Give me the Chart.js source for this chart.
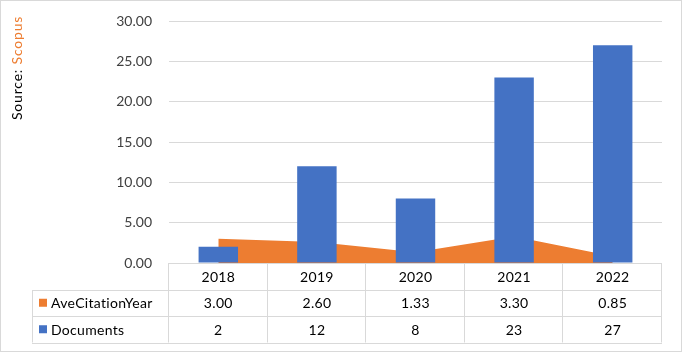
<!DOCTYPE html>
<html>
<head>
<meta charset="utf-8">
<script src="https://cdn.jsdelivr.net/npm/chart.js@4"></script>
<style>
  html, body { margin: 0; padding: 0; background: #fff; }
  #c { display: block; }
</style>
</head>
<body>
<canvas id="c" width="683" height="354"></canvas>
<script>
const years = ['2018', '2019', '2020', '2021', '2022'];
const aveCitationYear = [3.00, 2.60, 1.33, 3.30, 0.85];
const documents = [2, 12, 8, 23, 27];
const aveCitationLabels = ['3.00', '2.60', '1.33', '3.30', '0.85'];
const documentLabels = ['2', '12', '8', '23', '27'];

const ORANGE = '#ED7D31';
const BLUE = '#4472C4';
const GRID = '#D9D9D9';
const FONT = 'Lato, "Noto Sans", sans-serif';

// draws the data table below the plot, the source note and the outer border
const tablePlugin = {
    id: 'dataTable',
    afterDraw(chart) {
        const ctx = chart.ctx;
        const x = chart.scales.x;
        const area = chart.chartArea;
        const colW = (x.right - x.left) / years.length;
        const rowH = 26.5;
        const top = area.bottom;
        const tableLeft = 32;

        ctx.save();
        ctx.strokeStyle = GRID;
        ctx.lineWidth = 1;

        // horizontal lines
        ctx.beginPath();
        ctx.moveTo(x.left, top + 0.5);
        ctx.lineTo(x.right, top + 0.5);
        for (let r = 1; r <= 3; r++) {
            const y = Math.round(top + rowH * r) + 0.5;
            ctx.moveTo(tableLeft, y);
            ctx.lineTo(x.right, y);
        }
        // vertical lines
        for (let i = 0; i <= years.length; i++) {
            const xx = Math.round(x.left + colW * i) - 0.5;
            ctx.moveTo(xx, top);
            ctx.lineTo(xx, top + rowH * 3);
        }
        ctx.moveTo(tableLeft + 0.5, Math.round(top + rowH));
        ctx.lineTo(tableLeft + 0.5, top + rowH * 3);
        ctx.stroke();

        // cell texts
        ctx.fillStyle = '#000';
        ctx.font = '14px ' + FONT;
        ctx.letterSpacing = '0.3px';
        ctx.textAlign = 'center';
        ctx.textBaseline = 'middle';
        years.forEach((yr, i) => {
            const cx = x.getPixelForValue(i);
            ctx.fillText(yr, cx, top + rowH * 0.5 + 1);
            ctx.fillText(aveCitationLabels[i], cx, top + rowH * 1.5 + 1);
            ctx.fillText(documentLabels[i], cx, top + rowH * 2.5 + 1);
        });

        // legend keys in the row headers
        ctx.textAlign = 'left';
        ctx.fillStyle = ORANGE;
        ctx.fillRect(39, top + rowH * 1.5 - 4, 8, 8);
        ctx.fillStyle = BLUE;
        ctx.fillRect(39, top + rowH * 2.5 - 4, 8, 8);
        ctx.fillStyle = '#000';
        ctx.fillText('AveCitationYear', 51, top + rowH * 1.5 + 1);
        ctx.fillText('Documents', 51, top + rowH * 2.5 + 1);

        // source note, rotated
        ctx.translate(22, 120);
        ctx.rotate(-Math.PI / 2);
        ctx.font = '14px ' + FONT;
        ctx.letterSpacing = '0.8px';
        ctx.textBaseline = 'alphabetic';
        ctx.fillStyle = '#000';
        ctx.fillText('Source: ', 0, 0);
        const w = ctx.measureText('Source: ').width;
        ctx.fillStyle = ORANGE;
        ctx.fillText('Scopus', w, 0);
        ctx.restore();

        // chart border
        ctx.save();
        ctx.strokeStyle = GRID;
        ctx.strokeRect(0.5, 0.5, 681, 351);
        ctx.restore();
    }
};

new Chart(document.getElementById('c'), {
    type: 'bar',
    data: {
        labels: years,
        datasets: [
            {
                label: 'Documents',
                data: documents,
                backgroundColor: BLUE,
                categoryPercentage: 1,
                barPercentage: 0.4,
                order: 1
            },
            {
                type: 'line',
                label: 'AveCitationYear',
                data: aveCitationYear,
                backgroundColor: ORANGE,
                borderWidth: 0,
                pointRadius: 0,
                fill: 'origin',
                tension: 0,
                order: 2
            }
        ]
    },
    options: {
        responsive: false,
        animation: false,
        layout: { padding: { left: 0, right: 21, top: 21, bottom: 91 } },
        plugins: {
            legend: { display: false },
            tooltip: { enabled: false }
        },
        scales: {
            x: {
                display: false,
                offset: true
            },
            y: {
                min: 0,
                max: 30,
                border: { display: false },
                // invisible tick marks push the labels left without adding top padding
                grid: { color: GRID, lineWidth: 1, drawTicks: true, tickLength: 17, tickColor: 'rgba(0,0,0,0)' },
                ticks: {
                    stepSize: 5,
                    padding: 0,
                    color: '#404040',
                    font: { family: FONT, size: 14 },
                    callback: v => v.toFixed(2)
                },
                afterFit: s => { s.width = 169; }
            }
        }
    },
    plugins: [tablePlugin]
});
</script>
</body>
</html>
